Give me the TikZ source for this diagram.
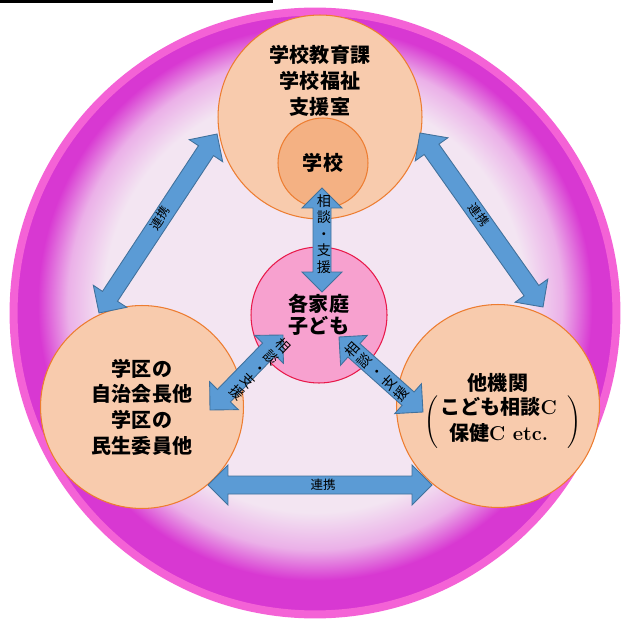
\documentclass[tikz,border=0pt]{standalone}
\usepackage{fontspec}
\newfontfamily\jp{Noto Sans CJK JP}
\usetikzlibrary{calc}

\definecolor{peach}{HTML}{F8CBAD}
\definecolor{peachline}{HTML}{ED7D31}
\definecolor{school}{HTML}{F4B183}
\definecolor{homepink}{HTML}{F7A1CF}
\definecolor{homeline}{HTML}{E8194A}
\definecolor{linkblue}{HTML}{5B9BD5}
\definecolor{linkline}{HTML}{41719C}
\definecolor{bowlin}{HTML}{F3E5F2}
\definecolor{bowlmid}{HTML}{EBB0E8}
\definecolor{bowlout}{HTML}{D838D2}
\definecolor{bowlrim}{HTML}{F462D6}

\pgfdeclareradialshading{bowl}{\pgfpoint{0bp}{1.5bp}}{color(0bp)=(bowlin); color(17.5bp)=(bowlin); color(20.5bp)=(bowlmid); color(23bp)=(bowlout); color(50bp)=(bowlout)}

\tikzset{
  field/.style={circle, draw=peachline, line width=0.6pt, fill=peach, inner sep=0pt, minimum size=4.06cm},
  bigtext/.style={align=center, inner sep=0pt, font=\jp\bfseries\fontsize{11.4}{14.8}\selectfont},
  linktext/.style={inner sep=0pt, font=\jp\fontsize{7.1}{8}\selectfont},
  stacktext/.style={align=center, inner sep=0pt, font=\jp\fontsize{8}{9.4}\selectfont},
  link/.style={draw=linkline, fill=linkblue, line width=0.5pt,
    to path={
      -- ($(\tikztostart)!0.4cm!(\tikztotarget)!0.4cm!90:(\tikztotarget)$)
      -- ($(\tikztostart)!0.4cm!(\tikztotarget)!0.18cm!90:(\tikztotarget)$)
      -- ($(\tikztotarget)!0.4cm!(\tikztostart)!0.18cm!90:(\tikztotarget)$)
      -- ($(\tikztotarget)!0.4cm!(\tikztostart)!0.4cm!90:(\tikztotarget)$)
      -- (\tikztotarget)
      -- ($(\tikztotarget)!0.4cm!(\tikztostart)!0.4cm!-90:(\tikztotarget)$)
      -- ($(\tikztotarget)!0.4cm!(\tikztostart)!0.18cm!-90:(\tikztotarget)$)
      -- ($(\tikztostart)!0.4cm!(\tikztotarget)!0.18cm!-90:(\tikztotarget)$)
      -- ($(\tikztostart)!0.4cm!(\tikztotarget)!0.4cm!-90:(\tikztotarget)$)
      -- cycle}}
}

\begin{document}
\begin{tikzpicture}[x=0.02cm, y=-0.02cm]
\useasboundingbox (0,0) rectangle (625,621);

\coordinate (rule1) at (0,1.3);
\coordinate (rule2) at (273,1.3);
\draw[line width=0.05cm] (rule1) -- (rule2);

\node[circle, minimum size=12.06cm, shading=bowl, draw=bowlrim, line width=0.16cm] (bowl) at (315,313) {};

\node[field, minimum size=4.08cm] (kyoiku) at (320,117) {};
\node[bigtext] (kyoikutxt) at (320,81) {学校教育課\\学校福祉\\支援室};
\node[field, fill=school, minimum size=1.8cm, bigtext] (gakko) at (323,163) {学校};

\node[circle, draw=homeline, line width=0.6pt, fill=homepink, minimum size=2.72cm,
  bigtext, font=\jp\bfseries\fontsize{11.4}{12.5}\selectfont] (katei) at (319,315) {各家庭\\子ども};

\node[field, bigtext, font=\jp\bfseries\fontsize{11.4}{14.6}\selectfont] (gakku) at (142,407) {学区の\\自治会長他\\学区の\\民生委員他};

\node[field] (kikan) at (498,406) {};
\node[bigtext] (kikanname) at (498,383) {他機関};
\node[bigtext] (kikanlist) at (503,422)
  {$\left(\begin{tabular}{@{\hspace{1pt}}c@{\hspace{6pt}}}こども相談{\rmfamily C}\\保健{\rmfamily C etc.}\end{tabular}\right)$};

% arrow ends
\coordinate (v1) at (322,188);  \coordinate (v2) at (322,292);
\coordinate (l1) at (217,134);  \coordinate (l2) at (99,313);
\coordinate (r1) at (420,133);  \coordinate (r2) at (543,307);
\coordinate (b1) at (208,485);  \coordinate (b2) at (432,485);
\coordinate (dl1) at (283,335); \coordinate (dl2) at (210,410);
\coordinate (dr1) at (339,337); \coordinate (dr2) at (423,412);

\path
    (v1) edge[link] (v2)
    (l1) edge[link] (l2)
    (r1) edge[link] (r2)
    (b1) edge[link] (b2)
    (dl1) edge[link] (dl2)
    (dr1) edge[link] (dr2);

\node[stacktext] (vtxt) at (324,234) {相\\談\\・\\支\\援};
\node[stacktext, rotate=-44] (dltxt) at (260,369) {相\\談\\・\\支\\援};
\node[stacktext, rotate=48] (drtxt) at (377,372) {相\\談\\・\\支\\援};
\node[linktext, rotate=56.6] (ltxt) at (160,218) {連携};
\node[linktext, rotate=-54.7] (rtxt) at (479,215) {連携};
\node[linktext] (btxt) at (323,485) {連携};
\end{tikzpicture}
\end{document}
